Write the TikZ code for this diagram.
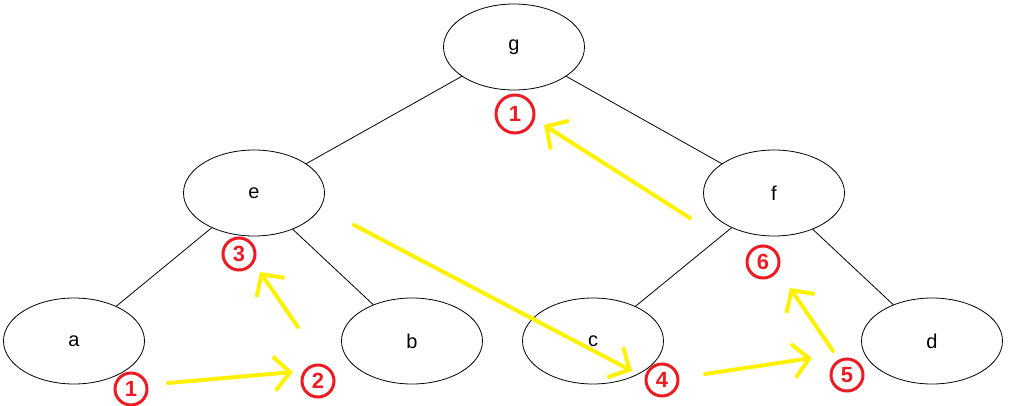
\documentclass[tikz,border=0pt]{standalone}
\usepackage{fontspec}
\setmainfont{Liberation Sans}
\usetikzlibrary{shapes.geometric,arrows.meta}
\definecolor{pen-red}{RGB}{237,28,36}
\definecolor{pen-yellow}{RGB}{255,242,0}

\begin{document}
\begin{tikzpicture}[x=1pt, y=-1pt,
            vert/.style={draw, ellipse, line width=0.8pt, inner sep=0pt,
                         minimum width=141pt, minimum height=86pt,
                         font=\fontsize{20}{22}\selectfont},
            stepno/.style={draw=pen-red, circle, line width=3pt, text=pen-red,
                           inner sep=0pt, minimum size=32pt,
                           font=\fontsize{22}{24}\selectfont\bfseries},
            visit/.style={pen-yellow, line width=4pt, line cap=round,
                          -{Straight Barb[length=16pt, width=34pt, line width=4pt]}}]
          \useasboundingbox (0,0) rectangle (1009,406);
          % tree
          \node[vert] (g) at (514,47)  {g};
          \node[vert] (e) at (254,193) {e};
          \node[vert] (f) at (774,193) {f};
          \node[vert] (a) at (74,341)  {a};
          \node[vert] (b) at (412,341) {b};
          \node[vert] (c) at (593,341) {c};
          \node[vert] (d) at (932,341) {d};
          \draw[line width=0.8pt] (g) -- (e);
          \draw[line width=0.8pt] (g) -- (f);
          \draw[line width=0.8pt] (e) -- (a);
          \draw[line width=0.8pt] (e) -- (b);
          \draw[line width=0.8pt] (f) -- (c);
          \draw[line width=0.8pt] (f) -- (d);
          % order marks
          \node[stepno] (s1)  at (131,389) {1};
          \node[stepno] (s2)  at (318,381) {2};
          \node[stepno] (s3)  at (239,254) {3};
          \node[stepno, minimum size=38pt] (s1g) at (515,114) {1};
          \node[stepno] (s4)  at (662,380) {4};
          \node[stepno] (s5)  at (847,375) {5};
          \node[stepno] (s6)  at (763,262) {6};
          % yellow arrows
          \coordinate (p1) at (168,383);
          \coordinate (q1) at (293,372);
          \coordinate (p2) at (298,327);
          \coordinate (q2) at (260,272);
          \coordinate (p3) at (354,225);
          \coordinate (q3) at (632,371);
          \coordinate (p4) at (705,374);
          \coordinate (q4) at (812,358);
          \coordinate (p5) at (833,351);
          \coordinate (q5) at (790,288);
          \coordinate (p6) at (690,218);
          \coordinate (q6) at (544,125);
          \draw[visit] (p1) -- (q1);
          \draw[visit] (p2) -- (q2);
          \draw[visit] (p3) -- (q3);
          \draw[visit] (p4) -- (q4);
          \draw[visit] (p5) -- (q5);
          \draw[visit] (p6) -- (q6);
        \end{tikzpicture}
\end{document}
